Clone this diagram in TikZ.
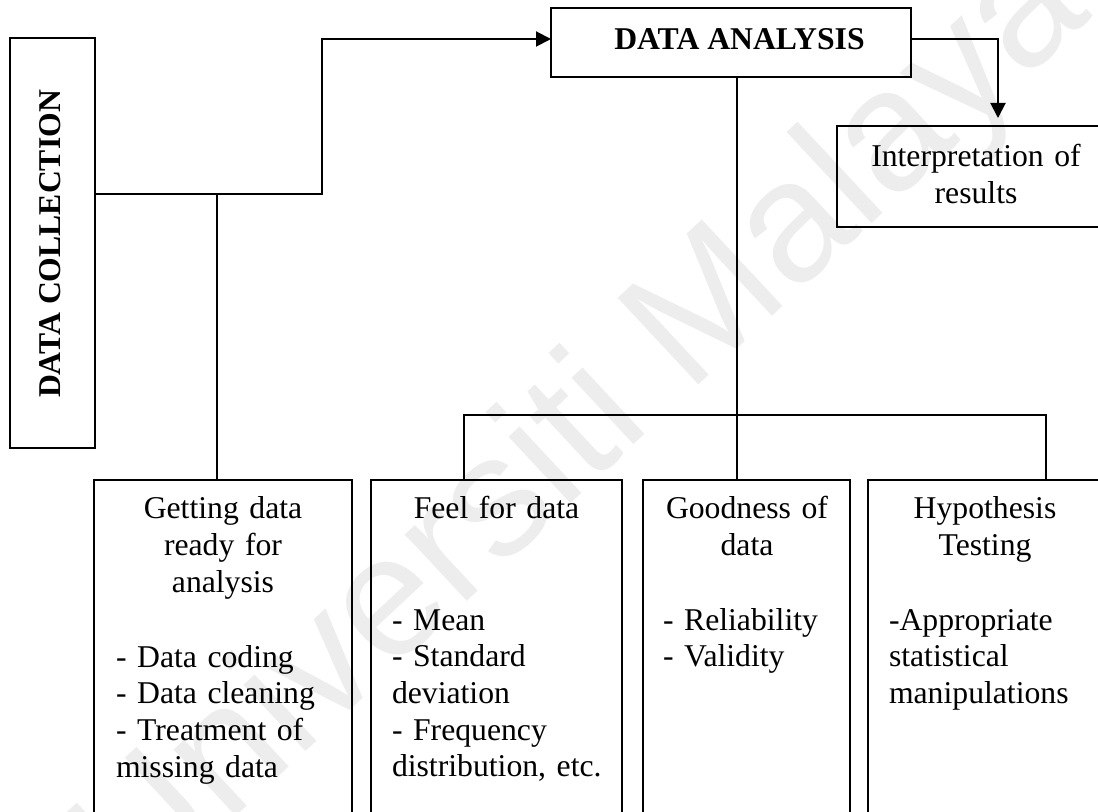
\documentclass[tikz,border=0pt]{standalone}
\usepackage{fontspec}
\setmainfont{Liberation Serif}
\newfontfamily\markfont{Liberation Sans}
\usetikzlibrary{arrows.meta}

\tikzset{
  box/.style={draw, line width=1.1pt, inner sep=0pt, outer sep=0pt, anchor=north west},
  link/.style={line width=1pt},
  arrowend/.style={-{Triangle[length=7.5pt,width=7.5pt]}},
  txt/.style={inner sep=0pt, outer sep=0pt, font=\fontsize{15.85pt}{18.35pt}\selectfont},
  headtext/.style={txt, anchor=base, align=center, text width=150pt},
  itemtext/.style={txt, anchor=base west, align=left, text width=120pt},
  boldtext/.style={inner sep=0pt, outer sep=0pt, font=\fontsize{15.85pt}{18.35pt}\selectfont\bfseries},
  stamptext/.style={inner sep=0pt, text=black!7, font=\markfont\fontsize{86pt}{86pt}\selectfont}
}

\begin{document}
\begin{tikzpicture}[x=0.5pt, y=-0.5pt]
  \useasboundingbox (0,0) rectangle (1098,812);
  \clip (0,0) rectangle (1098,812);

  % faint background stamp
  \node[stamptext, rotate=43] (stamp) at (585,430) {Universiti Malaya};

  % boxes
  \node[box, minimum width=42.5pt, minimum height=205pt] (dc) at (10,38) {};
  \node[box, minimum width=180pt, minimum height=34.5pt] (da) at (551,8) {};
  \node[box, minimum width=139pt, minimum height=50.5pt] (ip) at (837,126) {};
  \node[box, minimum width=129pt, minimum height=175pt] (b1) at (94,480) {};
  \node[box, minimum width=125.5pt, minimum height=175pt] (b2) at (371,480) {};
  \node[box, minimum width=103.5pt, minimum height=175pt] (b3) at (643,480) {};
  \node[box, minimum width=117pt, minimum height=175pt] (b4) at (868,480) {};

  % box texts
  \node[boldtext, rotate=90] (dct) at (50,244) {DATA COLLECTION};
  \node[boldtext, anchor=base] (dat) at (739.5,50) {DATA ANALYSIS};
  \node[headtext] (ipt) at (976,167) {Interpretation of\\ results};

  \node[headtext] (b1t) at (223,519) {Getting data\\ ready for\\ analysis};
  \node[itemtext] (b1l) at (116,667) {- Data coding\\ - Data cleaning\\ - Treatment of\\ missing data};

  \node[headtext] (b2t) at (496.5,519) {Feel for data};
  \node[itemtext] (b2l) at (392,630) {- Mean\\ - Standard\\ deviation\\ - Frequency\\ distribution, etc.};

  \node[headtext] (b3t) at (747,519) {Goodness of\\ data};
  \node[itemtext] (b3l) at (663,630) {- Reliability\\ - Validity};

  \node[headtext] (b4t) at (985,519) {Hypothesis\\ Testing};
  \node[itemtext] (b4l) at (889,630) {-Appropriate\\ statistical\\ manipulations};

  % connector bends
  \coordinate (j1) at (217,194);
  \coordinate (j2) at (322,39);
  \coordinate (j3) at (998,39);
  \coordinate (mid) at (737,415);
  \coordinate (barL) at (464,415);
  \coordinate (barR) at (1046,415);

  % connectors
  \draw[link, arrowend] (dc.east |- j1) -- (j2 |- j1) -- (j2) -- (da.west |- j2);
  \draw[link] (j1) -- (j1 |- b1.north);
  \draw[link, arrowend, shorten >=4pt] (da.east |- j3) -- (j3) -- (j3 |- ip.north);
  \draw[link] (da.south -| mid) -- (mid |- b3.north);
  \draw[link] (barL |- b2.north) -- (barL) -- (barR) -- (barR |- b4.north);
\end{tikzpicture}
\end{document}
